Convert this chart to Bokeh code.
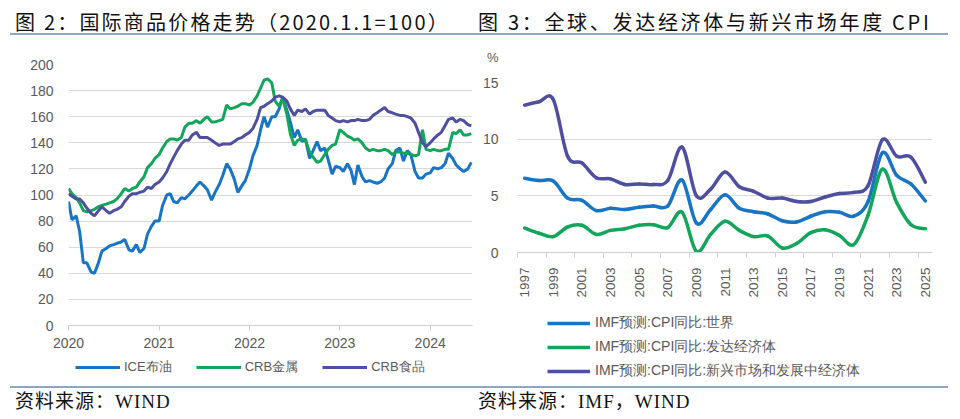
import math
import numpy as np
import pandas as pd
from bokeh.plotting import figure
from bokeh.models import (Range1d, FixedTicker, CustomJSTickFormatter, Legend, LegendItem,
                          Div, ColumnDataSource)
from bokeh.layouts import row, column
from bokeh.embed import file_html
from bokeh.resources import INLINE

# ---------------- data: left chart (semi-monthly, 2020.1.1 = 100) ----------------
dates = pd.date_range("2020-01-01", periods=108, freq="SMS")
ice_brent = [95, 81, 84, 72, 48, 48, 41, 40, 48, 57,
             59, 61, 62, 63, 64, 66, 58, 57, 62, 56,
             59, 70, 76, 80, 80, 92, 100, 101, 95, 94,
             98, 97, 100, 103, 107, 110, 107, 104, 96, 102,
             108, 115, 124, 120, 112, 102, 107, 111, 120, 130,
             138, 150, 160, 152, 160, 160, 166, 175, 165, 156,
             144, 150, 141, 143, 128, 134, 141, 134, 136, 127,
             116, 122, 121, 118, 124, 119, 108, 123, 114, 110,
             111, 110, 109, 110, 113, 120, 124, 134, 136, 126,
             134, 131, 118, 113, 113, 116, 117, 121, 120, 121,
             124, 132, 128, 123, 120, 118, 120, 125]
crb_metal = [105, 101, 98, 94, 88, 87, 88, 89, 91, 92,
             93, 94, 95, 97, 101, 105, 103, 105, 106, 110,
             114, 121, 124, 128, 131, 136, 141, 143, 143, 142,
             144, 152, 155, 155, 157, 155, 158, 160, 156, 156,
             157, 158, 169, 166, 167, 168, 170, 170, 169, 171,
             176, 182, 188, 189, 186, 172, 168, 174, 162, 147,
             138, 142, 143, 142, 133, 129, 125, 126, 131, 135,
             138, 139, 150, 148, 145, 144, 142, 143, 140, 136,
             134, 135, 134, 134, 135, 134, 131, 133, 133, 132,
             132, 131, 130, 131, 150, 135, 134, 135, 134, 134,
             135, 135, 148, 147, 150, 146, 146, 147]
crb_food = [101, 99, 97, 97, 94, 90, 86, 84, 88, 91,
            88, 86, 88, 89, 91, 95, 99, 101, 101, 102,
            103, 106, 105, 108, 110, 113, 118, 124, 129, 134,
            139, 142, 142, 146, 148, 144, 144, 144, 142, 140,
            138, 139, 139, 139, 141, 143, 144, 146, 148, 151,
            158, 167, 168, 170, 172, 175, 176, 175, 172, 166,
            161, 165, 164, 166, 162, 164, 165, 165, 165, 161,
            159, 157, 156, 157, 156, 157, 157, 158, 157, 157,
            158, 161, 163, 165, 167, 164, 163, 162, 161, 161,
            160, 159, 155, 148, 140, 137, 140, 143, 146, 148,
            153, 158, 159, 156, 158, 157, 154, 153]
left_names = ["ICE布油", "CRB金属", "CRB食品"]
left_xticks = ["2020-01-01", "2021-01-01", "2022-01-01", "2023-01-01", "2024-01-01"]
left_yticks = [0, 20, 40, 60, 80, 100, 120, 140, 160, 180, 200]

# ---------------- data: right chart (annual CPI, %) ----------------
years = list(range(1997, 2026))
cpi_world = [6.55, 6.35, 6.3, 4.8, 4.6, 3.7, 3.9, 3.8, 4.0, 4.1,
             4.1, 6.4, 2.6, 3.8, 5.1, 3.9, 3.6, 3.4, 2.8, 2.7,
             3.2, 3.6, 3.55, 3.2, 4.5, 8.8, 6.8, 6.05, 4.55]
cpi_adv = [2.15, 1.7, 1.4, 2.25, 2.4, 1.6, 1.95, 2.1, 2.4, 2.45,
           2.2, 3.55, 0.1, 1.6, 2.75, 1.95, 1.4, 1.45, 0.4, 0.8,
           1.75, 2.0, 1.5, 0.7, 3.3, 7.35, 4.4, 2.45, 2.1]
cpi_em = [13.0, 13.3, 13.5, 8.5, 7.9, 6.6, 6.5, 6.0, 6.05, 6.0,
          6.35, 9.3, 5.0, 5.6, 7.1, 5.8, 5.4, 4.8, 4.8, 4.5,
          4.5, 4.9, 5.2, 5.3, 5.9, 9.95, 8.5, 8.4, 6.2]
right_names = ["IMF预测:CPI同比:世界", "IMF预测:CPI同比:发达经济体",
               "IMF预测:CPI同比:新兴市场和发展中经济体"]
right_xticks = list(range(1997, 2026, 2))
right_yticks = [0, 5, 10, 15]
right_unit = "%"

title_left = "图 2：国际商品价格走势（2020.1.1=100）"
title_right = "图 3：全球、发达经济体与新兴市场年度 CPI"
source_left = "资料来源：WIND"
source_right = "资料来源：IMF，WIND"

BLUE = "#1874C4"
GREEN = "#13A55B"
PURPLE = "#4F4F9F"
GRID = "#D9D9D9"
TICKC = "#595959"
RULE = "#8FA5C4"
AXFONT = "Liberation Sans"


def style_common(p):
    p.outline_line_color = None
    p.xgrid.visible = False
    p.ygrid.grid_line_color = GRID
    p.ygrid.grid_line_width = 1
    for ax in (p.xaxis, p.yaxis):
        ax.major_label_text_color = TICKC
        ax.major_label_text_font = AXFONT
    p.yaxis.axis_line_color = None
    p.yaxis.major_tick_line_color = None
    p.yaxis.minor_tick_line_color = None
    p.yaxis.major_tick_out = 0
    p.yaxis.major_tick_in = 0
    p.xaxis.axis_line_color = "#CFCFCF"
    p.xaxis.major_tick_in = 0
    p.xaxis.minor_tick_line_color = None


def legend_fig(width, height, names, colors, lw, orientation, loc, spacing, glyph_w, standoff,
               font_size):
    # a legend-only strip (its frame is aligned with the chart above it)
    f = figure(width=width, height=height, x_range=Range1d(0, 1), y_range=Range1d(0, 1),
               output_backend="svg", toolbar_location=None, min_border=0,
               x_axis_location=None, y_axis_location=None)
    f.outline_line_color = None
    f.background_fill_alpha = 0
    f.border_fill_alpha = 0
    for g in f.grid:
        g.visible = False
    items = []
    for name, col in zip(names, colors):
        r = f.line(x=[float("nan")], y=[float("nan")], line_color=col, line_width=lw)
        items.append(LegendItem(label=name, renderers=[r]))
    leg = Legend(items=items, orientation=orientation, location=loc, padding=0, margin=0,
                 spacing=spacing, label_standoff=standoff, glyph_width=glyph_w, glyph_height=20,
                 label_height=20, label_text_font_size=font_size, label_text_color=TICKC,
                 label_text_font=AXFONT, border_line_color=None, background_fill_alpha=0)
    f.add_layout(leg)
    return f


# ---------------- left figure ----------------
pL = figure(width=470, height=313, x_axis_type="datetime",
            x_range=Range1d(pd.Timestamp("2020-01-01"), pd.Timestamp("2024-06-20")),
            y_range=Range1d(0, 200), output_backend="svg", toolbar_location=None,
            min_border_left=60, min_border_right=6, min_border_top=20, min_border_bottom=32)
style_common(pL)
pL.yaxis.ticker = FixedTicker(ticks=left_yticks)
pL.xaxis.ticker = FixedTicker(ticks=[pd.Timestamp(t).value / 1e6 for t in left_xticks])
pL.xaxis.formatter = CustomJSTickFormatter(code="return String(new Date(tick).getUTCFullYear());")
pL.yaxis.major_label_text_font_size = "14px"
pL.xaxis.major_label_text_font_size = "14px"
pL.yaxis.major_label_standoff = 15
pL.xaxis.major_tick_out = 5
pL.xaxis.major_tick_line_color = "#CFCFCF"
pL.xaxis.major_label_standoff = 7

srcL = ColumnDataSource(dict(date=dates, ice=ice_brent, metal=crb_metal, food=crb_food))
pL.line("date", "ice", source=srcL, line_color=BLUE, line_width=3)
pL.line("date", "metal", source=srcL, line_color=GREEN, line_width=3)
pL.line("date", "food", source=srcL, line_color=PURPLE, line_width=3)

legL = legend_fig(470, 28, left_names, [BLUE, GREEN, PURPLE], 3, "horizontal", (7, 8),
                  24, 45, 4, "13px")

# ---------------- right figure ----------------
pR = figure(width=474, height=238, x_range=Range1d(1996.5, 2025.5), y_range=Range1d(0, 15),
            output_backend="svg", toolbar_location=None,
            min_border_left=39, min_border_right=20, min_border_top=20, min_border_bottom=42)
style_common(pR)
pR.yaxis.ticker = FixedTicker(ticks=right_yticks)
pR.xaxis.ticker = FixedTicker(ticks=right_xticks,
                              minor_ticks=[y - 0.5 for y in right_xticks])
pR.xaxis.formatter = CustomJSTickFormatter(code="return String(Math.round(tick));")
pR.xaxis.major_label_orientation = math.pi / 2
pR.xaxis.major_tick_line_color = None
pR.xaxis.major_tick_out = 0
pR.xaxis.minor_tick_line_color = "#CFCFCF"
pR.xaxis.minor_tick_out = 5
pR.xaxis.minor_tick_in = 0
pR.xaxis.major_label_standoff = 10
pR.xaxis.major_label_text_font_size = "13.5px"
pR.yaxis.major_label_text_font_size = "14px"
pR.yaxis.major_label_standoff = 19


def bezier_source(xs, ys):
    x = np.asarray(xs, dtype=float)
    y = np.asarray(ys, dtype=float)
    xp = np.concatenate([[x[0]], x, [x[-1]]])
    yp = np.concatenate([[y[0]], y, [y[-1]]])
    n = len(x) - 1
    i = np.arange(n)
    p0x, p0y = xp[i], yp[i]
    p1x, p1y = xp[i + 1], yp[i + 1]
    p2x, p2y = xp[i + 2], yp[i + 2]
    p3x, p3y = xp[i + 3], yp[i + 3]
    return ColumnDataSource(dict(
        x0=p1x, y0=p1y, x1=p2x, y1=p2y,
        cx0=p1x + (p2x - p0x) / 6.0, cy0=p1y + (p2y - p0y) / 6.0,
        cx1=p2x - (p3x - p1x) / 6.0, cy1=p2y - (p3y - p1y) / 6.0))


for vals, col in ((cpi_world, BLUE), (cpi_adv, GREEN), (cpi_em, PURPLE)):
    pR.bezier(x0="x0", y0="y0", x1="x1", y1="y1", cx0="cx0", cy0="cy0",
              cx1="cx1", cy1="cy1", source=bezier_source(years, vals),
              line_color=col, line_width=3.5, line_cap="round")

legR = legend_fig(474, 85, right_names, [BLUE, GREEN, PURPLE], 3.5, "vertical", (30, 4),
                  4, 43, 5, "14px")

# ---------------- titles and sources ----------------
SFONT = "font-family:'Liberation Serif','Noto Sans CJK SC',serif;font-size:19px;letter-spacing:1px;color:#111;white-space:nowrap;"


def title_div(text, w, ml, pl, ls, h, extra=""):
    tfont = (f"font-family:'Noto Sans CJK SC',sans-serif;font-size:20px;letter-spacing:{ls}px;"
             "color:#111;white-space:nowrap;")
    html = (f'<div style="box-sizing:border-box;margin-left:{ml}px;width:{w}px;height:27px;'
            f'padding-top:3px;padding-left:{pl}px;line-height:22px;border-bottom:2px solid {RULE};{tfont}">'
            f'{text}</div>{extra}')
    return Div(text=html, width=ml + w, height=h, margin=0)


def source_div(text, w, ml, pl):
    html = (f'<div style="box-sizing:border-box;margin-left:{ml}px;margin-top:1px;width:{w}px;height:28px;'
            f'padding-top:2px;padding-left:{pl}px;line-height:24px;border-top:2px solid {RULE};{SFONT}">'
            f'{text}</div>')
    return Div(text=html, width=ml + w, height=30, margin=0)


unit_html = (f'<div style="margin-top:15px;margin-left:9px;font-family:{AXFONT},sans-serif;'
             f'font-size:13px;line-height:16px;color:{TICKC};">{right_unit}</div>')

tL = title_div(title_left, 468, 2, 5, 2.2, 36)
tR = title_div(title_right, 470, 0, 0, 2.7, 54, unit_html)
sL = source_div(source_left, 468, 2, 5)
sR = source_div(source_right, 470, 0, 0)

layout = row(column(tL, pL, legL, sL), column(tR, pR, legR, sR), margin=(8, 0, 0, 8))

open("out.html", "w").write(file_html(layout, INLINE))
